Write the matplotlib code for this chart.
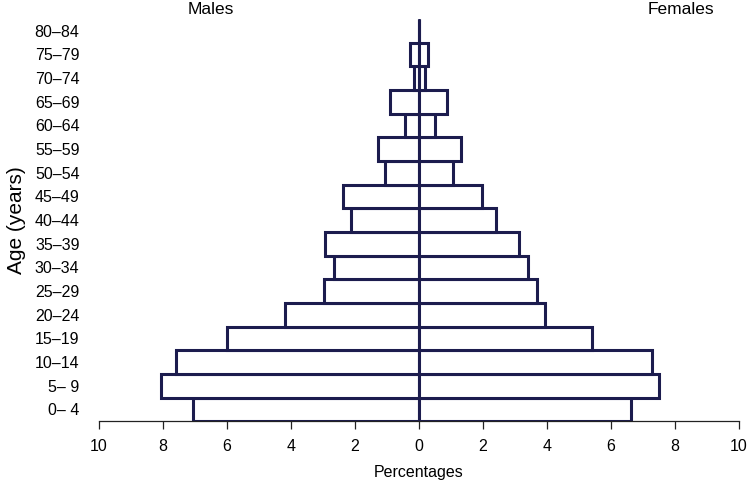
import numpy as np
import matplotlib.pyplot as plt

plt.rcParams['font.family'] = ['Liberation Sans', 'DejaVu Sans']

ages = ['0\u2013 4', '5\u2013 9', '10\u201314', '15\u201319', '20\u201324', '25\u201329', '30\u201334',
        '35\u201339', '40\u201344', '45\u201349', '50\u201354', '55\u201359', '60\u201364', '65\u201369',
        '70\u201374', '75\u201379', '80\u201384']
males = [7.06, 8.07, 7.58, 6.01, 4.19, 2.97, 2.64, 2.95, 2.13, 2.38, 1.06, 1.29, 0.42, 0.91, 0.16, 0.27, 0.0]
females = [6.62, 7.52, 7.28, 5.41, 3.93, 3.69, 3.42, 3.12, 2.40, 1.96, 1.08, 1.33, 0.51, 0.87, 0.18, 0.30, 0.0]
xticks = [-10, -8, -6, -4, -2, 0, 2, 4, 6, 8, 10]
xticklabels = ['10', '8', '6', '4', '2', '0', '2', '4', '6', '8', '10']

navy = '#1c1c4e'

fig = plt.figure(figsize=(7.5, 4.83), dpi=100)
ax = fig.add_axes([0.132, 0.128, 0.853, 0.833])

y = np.arange(len(ages))
ax.barh(y, -np.array(males), height=1.0, color='white', edgecolor=navy, linewidth=2.2, zorder=2)
ax.barh(y, females, height=1.0, color='white', edgecolor=navy, linewidth=2.2, zorder=2)
ax.plot([0, 0], [-0.5, len(ages) - 0.5], color=navy, lw=1.0, zorder=1)

ax.set_xlim(-10, 10)
ax.set_ylim(-0.5, len(ages) - 0.5)
ax.set_xticks(xticks)
ax.set_xticklabels(xticklabels, fontsize=11.5)
ax.set_yticks(y)
ax.set_yticklabels(ages, fontsize=11.5)
ax.tick_params(axis='y', length=0, pad=14)
ax.tick_params(axis='x', length=6, width=0.9, color='#222222', direction='out', pad=7)

for s in ['top', 'right', 'left']:
    ax.spines[s].set_visible(False)
ax.spines['bottom'].set_linewidth(0.9)
ax.spines['bottom'].set_color('#222222')

ax.set_xlabel('Percentages', fontsize=11.5, labelpad=8)
ax.set_ylabel('Age (years)', fontsize=15, labelpad=6)

ax.text(-6.5, 1.005, 'Males', transform=ax.get_xaxis_transform(), ha='center', va='bottom', fontsize=12.5)
ax.text(8.2, 1.005, 'Females', transform=ax.get_xaxis_transform(), ha='center', va='bottom', fontsize=12.5)

fig.savefig('out.png', dpi=100, facecolor='white')
